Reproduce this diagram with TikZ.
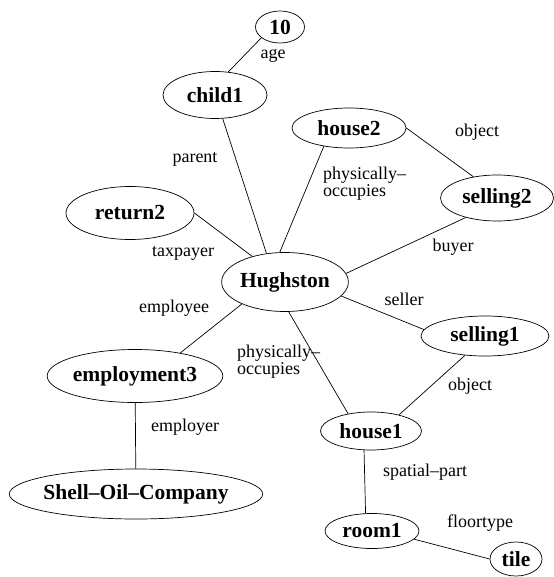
\documentclass[tikz,border=0pt]{standalone}
\usepackage{fontspec}
\setmainfont{Liberation Serif}
\usetikzlibrary{shapes.geometric}
\tikzset{
  concept/.style={draw, ellipse, inner sep=0pt, line width=0.7pt, font=\fontsize{21.5}{22}\selectfont\bfseries},
  relname/.style={font=\fontsize{18}{17}\selectfont, align=left, inner sep=0pt},
  link/.style={line width=0.7pt},
}
\begin{document}
\begin{tikzpicture}[x=1pt,y=-1pt]
\useasboundingbox (0,0) rectangle (553,577);
% concepts
\node[concept, minimum width=49pt, minimum height=32pt] (ten) at (280,27) {10};
\node[concept, minimum width=104pt, minimum height=47pt] (child1) at (215,95) {child1};
\node[concept, minimum width=114pt, minimum height=40pt] (house2) at (349,128) {house2};
\node[concept, minimum width=113pt, minimum height=46pt] (selling2) at (497,198) {selling2};
\node[concept, minimum width=128pt, minimum height=53pt] (return2) at (130,213) {return2};
\node[concept, minimum width=126pt, minimum height=59pt] (hughston) at (285,282) {Hughston};
\node[concept, minimum width=174pt, minimum height=53pt] (employment3) at (135,376) {employment3};
\node[concept, minimum width=252pt, minimum height=50pt, inner xsep=-3pt] (shell) at (136,494) {Shell–Oil–Company};
\node[concept, minimum width=128pt, minimum height=40pt] (selling1) at (485,336) {selling1};
\node[concept, minimum width=101pt, minimum height=38pt] (house1) at (371,431) {house1};
\node[concept, minimum width=94pt, minimum height=35pt] (room1) at (372,531) {room1};
\node[concept, minimum width=52pt, minimum height=34pt] (tile) at (516,559) {tile};
% relations
\draw[link] (ten.210) -- (child1.60);
\draw[link] (child1.288) -- (hughston.123);
\draw[link] (house2.216) -- (hughston.100);
\draw[link] (house2.0) -- (selling2.138);
\draw[link] (selling2.212) -- (hughston.8);
\draw[link] (return2.0) -- (hughston.142);
\draw[link] (hughston.207) -- (employment3.27);
\draw[link] (hughston.346) -- (selling1.174);
\draw[link] (hughston.277) -- (house1.143);
\draw[link] (selling1.224) -- (house1.30);
\draw[link] (employment3) -- (shell);
\draw[link] (house1.250) -- (room1.110);
\draw[link] (room1.349) -- (tile.180);
% relation names
\node[relname] (lage) at (273,56) {age};
\node[relname] (lparent) at (195,159) {parent};
\node[relname, anchor=west] (locc2) at (323,184) {physically–\\occupies};
\node[relname] (lobj2) at (477,132) {object};
\node[relname] (lbuyer) at (453,247) {buyer};
\node[relname] (ltax) at (183,253) {taxpayer};
\node[relname] (lemployee) at (174,308) {employee};
\node[relname] (lseller) at (404,299) {seller};
\node[relname, anchor=west] (locc1) at (237,362) {physically–\\occupies};
\node[relname] (lobj1) at (470,386) {object};
\node[relname] (lemployer) at (185,427) {employer};
\node[relname] (lspatial) at (425,472) {spatial–part};
\node[relname] (lfloor) at (480,523) {floortype};
\end{tikzpicture}
\end{document}
